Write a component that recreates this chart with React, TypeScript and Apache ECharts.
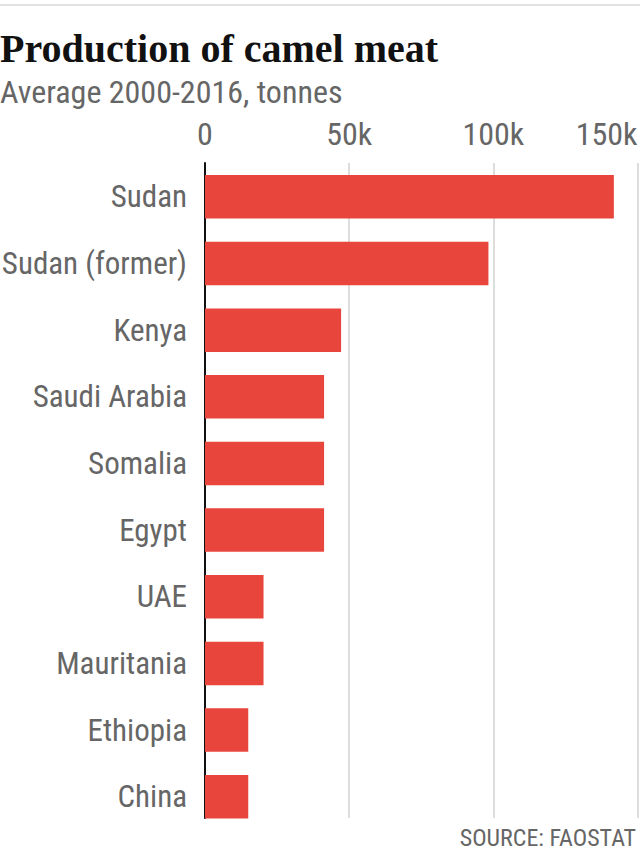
import React, { useEffect, useRef } from "react";
import * as echarts from "echarts";

const countries = [
  "Sudan",
  "Sudan (former)",
  "Kenya",
  "Saudi Arabia",
  "Somalia",
  "Egypt",
  "UAE",
  "Mauritania",
  "Ethiopia",
  "China",
];
const production = [141800, 98300, 47200, 41300, 41300, 41300, 20300, 20300, 15000, 15000];
const tickValues = [0, 50000, 100000, 150000];
const tickLabels = ["0", "50k", "100k", "150k"];

const titleText = "Production of camel meat";
const subtitleText = "Average 2000-2016, tonnes";
const sourceText = "SOURCE: FAOSTAT";

const SANS = "'Roboto Condensed', 'Fira Sans Condensed', 'DejaVu Sans Condensed', 'Liberation Sans Narrow', 'Open Sans', sans-serif";
const SERIF = "'Liberation Serif', 'DejaVu Serif', serif";

export default function App() {
  const ref = useRef<HTMLDivElement>(null);
  useEffect(() => {
    if (!ref.current) return;
    const chart = echarts.init(ref.current, undefined, { renderer: "svg" });
    const labelFor = (v: number) => {
      const i = tickValues.indexOf(v);
      return i >= 0 ? tickLabels[i] : "";
    };
    chart.setOption({
      animation: false,
      backgroundColor: "#ffffff",
      grid: [
        { left: 205, right: 2.5, top: 163.5, height: 666.5, containLabel: false, outerBoundsMode: "none" },
        { left: 205, right: 2.5, top: 163, height: 655, containLabel: false, outerBoundsMode: "none" },
      ],
      xAxis: [
        {
          gridIndex: 0,
          type: "value",
          min: 0,
          max: 150000,
          show: false,
        },
        {
          gridIndex: 1,
          type: "value",
          position: "top",
          min: 0,
          max: 150000,
          interval: 50000,
          axisLine: { show: false },
          axisTick: { show: false },
          axisLabel: {
            formatter: (v: number) => labelFor(v),
            color: "#666",
            fontFamily: SANS,
            fontSize: 32,
            margin: 13,
            alignMaxLabel: "right",
            hideOverlap: false,
          },
          splitLine: { show: true, lineStyle: { color: "#dddddd", width: 2 } },
        },
      ],
      yAxis: [
        {
          gridIndex: 0,
          type: "category",
          inverse: true,
          data: countries,
          axisLine: { show: false },
          axisTick: { show: false },
          splitLine: { show: false },
          axisLabel: {
            color: "#666",
            fontFamily: SANS,
            fontSize: 31,
            margin: 18,
          },
        },
        {
          gridIndex: 1,
          type: "value",
          min: 0,
          max: 1,
          axisLine: { show: true, lineStyle: { color: "#111", width: 2 } },
          axisTick: { show: false },
          axisLabel: { show: false },
          splitLine: { show: false },
        },
      ],
      series: [
        {
          type: "bar",
          xAxisIndex: 0,
          yAxisIndex: 0,
          data: production,
          barWidth: 43.5,
          itemStyle: { color: "#e8463c" },
          silent: true,
        },
      ],
      graphic: [
        { type: "rect", shape: { x: 0, y: 4, width: 640, height: 2 }, style: { fill: "#e2e2e2" }, silent: true },
        {
          type: "text",
          x: 0,
          y: 48,
          style: { text: titleText, font: `bold 40px ${SERIF}`, fill: "#111", textAlign: "left", textVerticalAlign: "middle" },
        },
        {
          type: "text",
          x: 0,
          y: 92,
          style: { text: subtitleText, font: `32px ${SANS}`, fill: "#666", textAlign: "left", textVerticalAlign: "middle" },
        },
        {
          type: "text",
          x: 636,
          y: 838,
          style: { text: sourceText, font: `24px ${SANS}`, fill: "#666", textAlign: "right", textVerticalAlign: "middle" },
        },
      ],
    });
    return () => chart.dispose();
  }, []);
  return (
    <div
      ref={ref}
      style={{ position: "fixed", left: 0, top: 0, width: 640, height: 858, background: "#fff" }}
    />
  );
}
